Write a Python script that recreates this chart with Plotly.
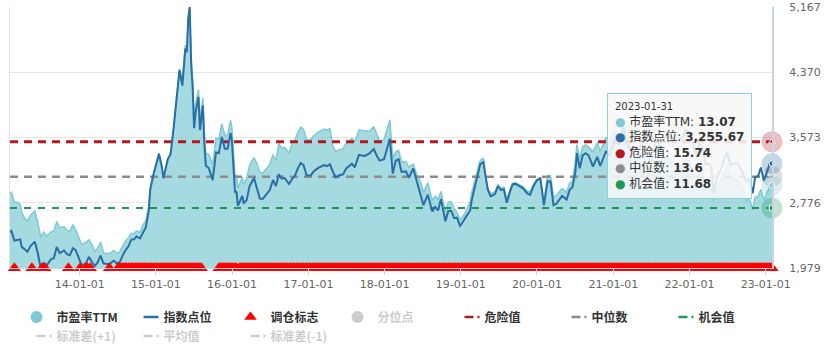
import pandas as pd
import plotly.graph_objects as go

# ---------------- data ----------------
dates = [
    "2013-02-01", "2013-02-08", "2013-02-22", "2013-03-08", "2013-03-22", "2013-03-29", "2013-04-12", "2013-04-26",
    "2013-05-10", "2013-05-31", "2013-06-14", "2013-06-28", "2013-07-12", "2013-07-26", "2013-08-16", "2013-08-30",
    "2013-09-13", "2013-09-27", "2013-10-18", "2013-11-01", "2013-11-15", "2013-11-29", "2013-12-13", "2013-12-27",
    "2014-01-10", "2014-01-30", "2014-02-14", "2014-02-28", "2014-03-14", "2014-03-28", "2014-04-11", "2014-04-25",
    "2014-05-16", "2014-05-30", "2014-06-13", "2014-06-27", "2014-07-11", "2014-07-25", "2014-08-08", "2014-08-22",
    "2014-09-05", "2014-09-19", "2014-09-30", "2014-10-17", "2014-10-31", "2014-11-14", "2014-11-28", "2014-12-05",
    "2014-12-19", "2014-12-31",
    "2015-01-16", "2015-01-30", "2015-02-06", "2015-02-27", "2015-03-13", "2015-03-27", "2015-04-10", "2015-04-24",
    "2015-05-08", "2015-05-22", "2015-05-29", "2015-06-05", "2015-06-12", "2015-06-19", "2015-06-26", "2015-07-03",
    "2015-07-10", "2015-07-24", "2015-07-31", "2015-08-14", "2015-08-21", "2015-08-28", "2015-09-11", "2015-09-30",
    "2015-10-16", "2015-10-30", "2015-11-13", "2015-11-27", "2015-12-11", "2015-12-25", "2015-12-31",
    "2016-01-08", "2016-01-15", "2016-01-22", "2016-01-29", "2016-02-19", "2016-02-26", "2016-03-11", "2016-03-25",
    "2016-04-15", "2016-04-29", "2016-05-13", "2016-05-27", "2016-06-17", "2016-06-30", "2016-07-15", "2016-07-29",
    "2016-08-12", "2016-08-26", "2016-09-09", "2016-09-30", "2016-10-14", "2016-10-28", "2016-11-11", "2016-11-25",
    "2016-12-09", "2016-12-23",
    "2017-01-13", "2017-01-26", "2017-02-17", "2017-03-03", "2017-03-17", "2017-03-31", "2017-04-14", "2017-04-28",
    "2017-05-12", "2017-05-26", "2017-06-16", "2017-06-30", "2017-07-14", "2017-07-28", "2017-08-11", "2017-08-31",
    "2017-09-15", "2017-09-29", "2017-10-20", "2017-11-10", "2017-11-24", "2017-12-08", "2017-12-29",
    "2018-01-12", "2018-01-26", "2018-02-09", "2018-02-23", "2018-03-09", "2018-03-23", "2018-04-13", "2018-04-27",
    "2018-05-18", "2018-06-01", "2018-06-22", "2018-07-06", "2018-07-27", "2018-08-17", "2018-08-31", "2018-09-14",
    "2018-09-28", "2018-10-19", "2018-11-02", "2018-11-16", "2018-11-30", "2018-12-14", "2018-12-28",
    "2019-01-04", "2019-01-25", "2019-02-15", "2019-02-22", "2019-03-08", "2019-03-22", "2019-04-04", "2019-04-19",
    "2019-04-30", "2019-05-10", "2019-05-24", "2019-06-14", "2019-06-28", "2019-07-12", "2019-07-26", "2019-08-09",
    "2019-08-23", "2019-09-06", "2019-09-20", "2019-10-11", "2019-10-25", "2019-11-15", "2019-11-29", "2019-12-13",
    "2019-12-31",
    "2020-01-17", "2020-02-03", "2020-02-21", "2020-03-06", "2020-03-20", "2020-04-03", "2020-04-30", "2020-05-22",
    "2020-06-05", "2020-06-19", "2020-07-03", "2020-07-10", "2020-07-24", "2020-08-07", "2020-08-21", "2020-09-04",
    "2020-09-25", "2020-10-16", "2020-10-30", "2020-11-13", "2020-11-27", "2020-12-11", "2020-12-31",
    "2021-01-15", "2021-01-29", "2021-02-18", "2021-03-05", "2021-03-26", "2021-04-16", "2021-04-30", "2021-05-21",
    "2021-05-31", "2021-06-18", "2021-06-30", "2021-07-16", "2021-07-30", "2021-08-13", "2021-08-31", "2021-09-17",
    "2021-09-30", "2021-10-15", "2021-10-29", "2021-11-19", "2021-11-30", "2021-12-10", "2021-12-31",
    "2022-01-14", "2022-01-28", "2022-02-18", "2022-03-04", "2022-03-18", "2022-03-31", "2022-04-15", "2022-04-26",
    "2022-05-13", "2022-05-31", "2022-06-17", "2022-07-01", "2022-07-15", "2022-07-29", "2022-08-19", "2022-09-02",
    "2022-09-16", "2022-09-30", "2022-10-14", "2022-10-31", "2022-11-11", "2022-11-25", "2022-12-09", "2022-12-23",
    "2022-12-30",
    "2023-01-13", "2023-01-20", "2023-01-31",
]

index_values = [
    2419, 2432, 2314, 2318, 2329, 2237, 2207, 2177, 2247, 2301, 2162, 1979, 2039, 2010, 2085, 2098,
    2236, 2160, 2193, 2149, 2135, 2220, 2196, 2101,
    2013, 2033, 2115, 2056, 2004, 2046, 2131, 2036, 2026, 2039, 2070, 2036, 2047, 2127, 2194, 2241,
    2326, 2329, 2364, 2341, 2420, 2478, 2683, 2937, 3108, 3235,
    3376, 3210, 3076, 3310, 3372, 3691, 4035, 4394, 4206, 4658, 4612, 5023, 5166, 4478, 4192, 3686,
    3877, 4070, 3664, 3965, 3507, 3232, 3200, 3053, 3391, 3383, 3580, 3436, 3435, 3628, 3539,
    3186, 2901, 2916, 2738, 2860, 2767, 2811, 2979, 3078, 2938, 2827, 2822, 2885, 2930, 3054, 2979,
    3125, 3070, 3078, 3005, 3064, 3104, 3196, 3262, 3233, 3110,
    3113, 3159, 3202, 3218, 3237, 3223, 3246, 3155, 3085, 3110, 3123, 3192, 3222, 3254, 3209, 3361,
    3354, 3349, 3379, 3432, 3353, 3290, 3307,
    3429, 3558, 3130, 3290, 3307, 3153, 3159, 3082, 3194, 3075, 2889, 2747, 2874, 2669, 2725, 2682,
    2821, 2550, 2676, 2679, 2588, 2594, 2494,
    2514, 2601, 2682, 2804, 2970, 3104, 3247, 3271, 3078, 2939, 2853, 2882, 2979, 2930, 2944, 2775,
    2898, 2999, 3006, 2974, 2955, 2891, 2872, 2968, 3050,
    3075, 2747, 3040, 3034, 2746, 2764, 2860, 2814, 2930, 2967, 3153, 3383, 3197, 3354, 3381, 3355,
    3219, 3336, 3225, 3310, 3408, 3347, 3473,
    3566, 3483, 3696, 3502, 3418, 3427, 3447, 3487, 3615, 3525, 3591, 3539, 3397, 3517, 3544, 3613,
    3568, 3572, 3547, 3560, 3564, 3666, 3640,
    3521, 3361, 3491, 3448, 3251, 3253, 3211, 2886, 3084, 3186, 3317, 3388, 3228, 3253, 3258, 3186,
    3126, 3024, 3072, 2893, 3087, 3101, 3206, 3046, 3089,
    3195, 3265, 3255.67,
]

pe_values = [
    12.58, 12.65, 12.03, 12.05, 11.88, 11.41, 11.04, 10.89, 11.24, 11.51, 10.81, 9.90, 10.20, 9.95, 10.22, 10.28,
    10.84, 10.48, 10.53, 10.32, 10.25, 10.66, 10.32, 9.87,
    9.46, 9.56, 9.73, 9.46, 9.02, 9.21, 9.59, 8.92, 8.87, 8.93, 9.07, 8.92, 8.97, 9.32, 9.65, 9.86,
    10.12, 10.13, 10.28, 10.18, 10.65, 10.90, 11.81, 12.92, 13.68, 14.23,
    14.85, 14.12, 13.53, 14.56, 15.17, 16.61, 18.56, 20.21, 19.56, 21.66, 21.45, 23.36, 23.98, 20.82, 19.49, 17.14,
    18.03, 18.93, 17.04, 18.44, 16.31, 15.03, 14.98, 14.35, 15.94, 15.90, 16.83, 16.15, 16.14, 17.05, 16.63,
    14.97, 13.63, 13.71, 12.87, 13.56, 13.12, 13.49, 14.30, 14.77, 14.40, 13.85, 13.83, 14.14, 14.36, 14.96, 14.60,
    15.63, 15.35, 15.39, 15.03, 15.63, 15.83, 16.30, 16.64, 16.49, 15.86,
    15.88, 16.11, 16.33, 16.41, 16.51, 16.44, 16.55, 15.46, 15.12, 15.24, 15.30, 15.64, 15.79, 15.94, 15.72, 16.47,
    16.43, 16.41, 16.39, 16.65, 16.26, 15.79, 15.87,
    16.46, 17.08, 14.71, 15.13, 15.21, 14.50, 14.53, 14.18, 14.37, 13.84, 13.29, 12.64, 13.22, 12.14, 12.40, 12.20,
    12.69, 11.48, 12.04, 12.06, 11.65, 11.41, 10.97,
    11.06, 11.44, 12.07, 12.62, 13.37, 13.97, 14.61, 14.72, 13.54, 12.93, 12.55, 12.68, 13.11, 12.89, 12.95, 12.21,
    12.75, 13.20, 13.23, 13.09, 13.00, 12.72, 12.64, 13.06, 13.42,
    13.53, 12.09, 13.68, 13.65, 12.36, 12.44, 12.87, 12.66, 13.19, 13.35, 14.50, 15.56, 14.71, 15.43, 15.55, 15.43,
    15.13, 15.68, 15.16, 15.56, 16.02, 15.73, 16.32,
    16.40, 16.02, 17.00, 16.11, 15.38, 15.08, 14.82, 14.99, 15.54, 14.81, 15.08, 14.86, 14.27, 14.42, 14.53, 14.81,
    14.63, 14.29, 14.19, 14.24, 14.26, 14.66, 14.56,
    14.08, 13.44, 13.96, 13.79, 13.00, 13.01, 12.84, 12.12, 12.95, 13.38, 13.93, 14.23, 13.56, 13.66, 13.36, 13.06,
    12.82, 12.10, 12.29, 11.57, 12.35, 12.40, 12.82, 12.18, 12.36,
    12.78, 13.06, 13.07,
]

danger_value = 15.74
median_value = 13.6
opportunity_value = 11.68

index_ticks = [1979, 2776, 3573, 4370, 5167]
pe_axis_range = [8, 24]
year_tick_start = "2014-01-01"

# rebalancing flags (调仓标志): single weeks and continuous weekly spans
signal_single_dates = ["2013-02-22", "2013-05-17", "2013-07-05", "2013-07-19", "2013-11-08",
                       "2014-01-03", "2014-01-30", "2014-02-07", "2014-02-21", "2014-05-23"]
signal_spans = [("2014-07-04", "2015-08-07"), ("2015-10-30", "2016-01-22"), ("2016-02-05", "2023-01-27")]

assert len(dates) == len(index_values) == len(pe_values)

# ---------------- styles ----------------
PE_LINE = "#7ecad4"
PE_FILL = "rgba(127,202,212,0.70)"
INDEX_COLOR = "#2a6ea6"
DANGER_COLOR = "#b5191d"
MEDIAN_COLOR = "#8c8c8c"
OPP_COLOR = "#1a9a57"
FLAG_COLOR = "#ff0000"
OFF_COLOR = "#cccccc"
CJK = "Noto Sans CJK SC"
LAT = "DejaVu Sans, Noto Sans CJK SC"

signal_dates = list(pd.to_datetime(signal_single_dates))
for s, e in signal_spans:
    signal_dates += list(pd.date_range(s, e, freq="W-FRI"))
signal_dates.append(pd.Timestamp(dates[-1]))

fig = go.Figure()

# PE TTM area (left hidden axis)
fig.add_trace(go.Scatter(x=dates, y=pe_values, mode="lines", yaxis="y",
                         line=dict(color=PE_LINE, width=1.5), fill="tozeroy", fillcolor=PE_FILL,
                         showlegend=False))

# threshold lines
for val, col, wid, dsh in [(danger_value, DANGER_COLOR, 3, "8px,6px"),
                           (median_value, MEDIAN_COLOR, 2.5, "8px,6px"),
                           (opportunity_value, OPP_COLOR, 2, "7px,7px")]:
    fig.add_trace(go.Scatter(x=[dates[0], dates[-1]], y=[val, val], mode="lines", yaxis="y",
                             line=dict(color=col, width=wid, dash=dsh), showlegend=False))

# hover halos for PE-axis series at the last point
for val, col, sym in [(danger_value, DANGER_COLOR, "triangle-up"), (median_value, MEDIAN_COLOR, "triangle-down"),
                      (pe_values[-1], PE_LINE, "circle"), (opportunity_value, OPP_COLOR, "circle")]:
    fig.add_trace(go.Scatter(x=[dates[-1]], y=[val], mode="markers", yaxis="y", cliponaxis=False,
                             marker=dict(size=21, color=col, opacity=0.28, line=dict(width=0)), showlegend=False))
    fig.add_trace(go.Scatter(x=[dates[-1]], y=[val], mode="markers", yaxis="y", cliponaxis=False,
                             marker=dict(size=6, color=col, symbol=sym, line=dict(width=1, color="white")),
                             showlegend=False))

# index line (right axis)
fig.add_trace(go.Scatter(x=dates, y=index_values, mode="lines", yaxis="y2",
                         line=dict(color=INDEX_COLOR, width=2), showlegend=False))

# rebalancing flags
fig.add_trace(go.Scatter(x=signal_dates, y=[index_ticks[0]] * len(signal_dates), mode="markers", yaxis="y2",
                         cliponaxis=False, marker=dict(symbol="triangle-up", size=11.5, color=FLAG_COLOR,
                                                       line=dict(width=0)),
                         showlegend=False))

# index halo
fig.add_trace(go.Scatter(x=[dates[-1]], y=[index_values[-1]], mode="markers", yaxis="y2", cliponaxis=False,
                         marker=dict(size=21, color=INDEX_COLOR, opacity=0.28, line=dict(width=0)), showlegend=False))
fig.add_trace(go.Scatter(x=[dates[-1]], y=[index_values[-1]], mode="markers", yaxis="y2", cliponaxis=False,
                         marker=dict(size=6, color=INDEX_COLOR, line=dict(width=1, color="white")), showlegend=False))

# ---------------- legend entries ----------------
def off(name):
    return f"<span style='color:{OFF_COLOR}'>{name}</span>"

DASHDOT = "0px,15px,9px,4px,2px,30px"
legend_items = [
    dict(name="市盈率TTM", mode="markers", marker=dict(symbol="circle", size=12, color=PE_LINE)),
    dict(name="指数点位", mode="lines", line=dict(color=INDEX_COLOR, width=2.5, dash="0px,15px,15px,30px")),
    dict(name="调仓标志", mode="markers", marker=dict(symbol="triangle-up", size=11, color=FLAG_COLOR)),
    dict(name=off("分位点"), mode="markers", marker=dict(symbol="circle", size=12, color=OFF_COLOR)),
    dict(name="危险值", mode="lines", line=dict(color=DANGER_COLOR, width=2.5, dash=DASHDOT)),
    dict(name="中位数", mode="lines", line=dict(color=MEDIAN_COLOR, width=2.5, dash=DASHDOT)),
    dict(name="机会值", mode="lines", line=dict(color=OPP_COLOR, width=2.5, dash=DASHDOT)),
    dict(name=off("标准差(+1)"), mode="lines", line=dict(color=OFF_COLOR, width=2.5, dash=DASHDOT)),
    dict(name=off("平均值"), mode="lines", line=dict(color=OFF_COLOR, width=2.5, dash=DASHDOT)),
    dict(name=off("标准差(-1)"), mode="lines", line=dict(color=OFF_COLOR, width=2.5, dash=DASHDOT)),
]
for it in legend_items:
    fig.add_trace(go.Scatter(x=[None], y=[None], showlegend=True, hoverinfo="skip", **it))

# ---------------- tooltip box ----------------
tip_rows = [
    (PE_LINE, "市盈率TTM", f"{pe_values[-1]:.2f}"),
    (INDEX_COLOR, "指数点位", f"{index_values[-1]:,.2f}"),
    (DANGER_COLOR, "危险值", f"{danger_value:g}"),
    (MEDIAN_COLOR, "中位数", f"{median_value:g}"),
    (OPP_COLOR, "机会值", f"{opportunity_value:g}"),
]
tip_text = f"<span style='font-size:10px'>{dates[-1]}</span><br>" + "<br>".join(
    f"<span style='color:{c}'>●</span> {n}: <b>{v}</b>" for c, n, v in tip_rows)

PLOT_L, PLOT_R, PLOT_T, PLOT_B = 9.5, 772, 6.7, 268.5
W, H = 838, 355
pw, ph = PLOT_R - PLOT_L, PLOT_B - PLOT_T

fig.add_annotation(xref="paper", yref="paper", x=(607 - PLOT_L) / pw, y=(PLOT_B - 93) / ph,
                   xanchor="left", yanchor="top", showarrow=False, align="left", text=tip_text,
                   font=dict(family=LAT, size=12, color="#333333"),
                   bgcolor="rgba(247,247,247,0.88)", bordercolor="#8fd0da", borderwidth=1, borderpad=7)

fig.update_layout(
    width=W, height=H,
    margin=dict(l=PLOT_L, r=W - PLOT_R, t=PLOT_T, b=H - PLOT_B, pad=0, autoexpand=False),
    paper_bgcolor="white", plot_bgcolor="white",
    hovermode=False,
    xaxis=dict(type="date", range=[dates[0], dates[-1]], tick0=year_tick_start, dtick="M12",
               tickformat="%y-%m-%d", ticks="outside", ticklen=6, tickcolor="#ccd6eb",
               showgrid=False, zeroline=False, showline=True, linecolor="#ccd6eb",
               tickfont=dict(family="DejaVu Sans", size=11, color="#666666")),
    yaxis=dict(range=pe_axis_range, showticklabels=False, ticks="", showgrid=False, zeroline=False,
               showline=True, linecolor="#e0e0e0", linewidth=1),
    yaxis2=dict(overlaying="y", side="right", range=[index_ticks[0], index_ticks[-1]],
                tickvals=index_ticks, ticktext=[f"{v:,}" for v in index_ticks], ticks="",
                showgrid=True, gridcolor="#e6e6e6", gridwidth=1, zeroline=False,
                showline=True, linecolor="#c6d4e3", linewidth=2, ticklabelstandoff=13,
                tickfont=dict(family="DejaVu Sans", size=11, color="#666666")),
    legend=dict(orientation="h", x=(16 - PLOT_L) / pw, xanchor="left", y=-(303 - PLOT_B) / ph, yanchor="top",
                entrywidth=62, entrywidthmode="pixels", bgcolor="rgba(0,0,0,0)", traceorder="normal",
                font=dict(family=CJK, size=12, color="#333333", weight="bold"),
                itemclick=False, itemdoubleclick=False),
)

fig.write_html("out.html", config={"displayModeBar": False},
               post_script="document.body.style.margin='0';")
